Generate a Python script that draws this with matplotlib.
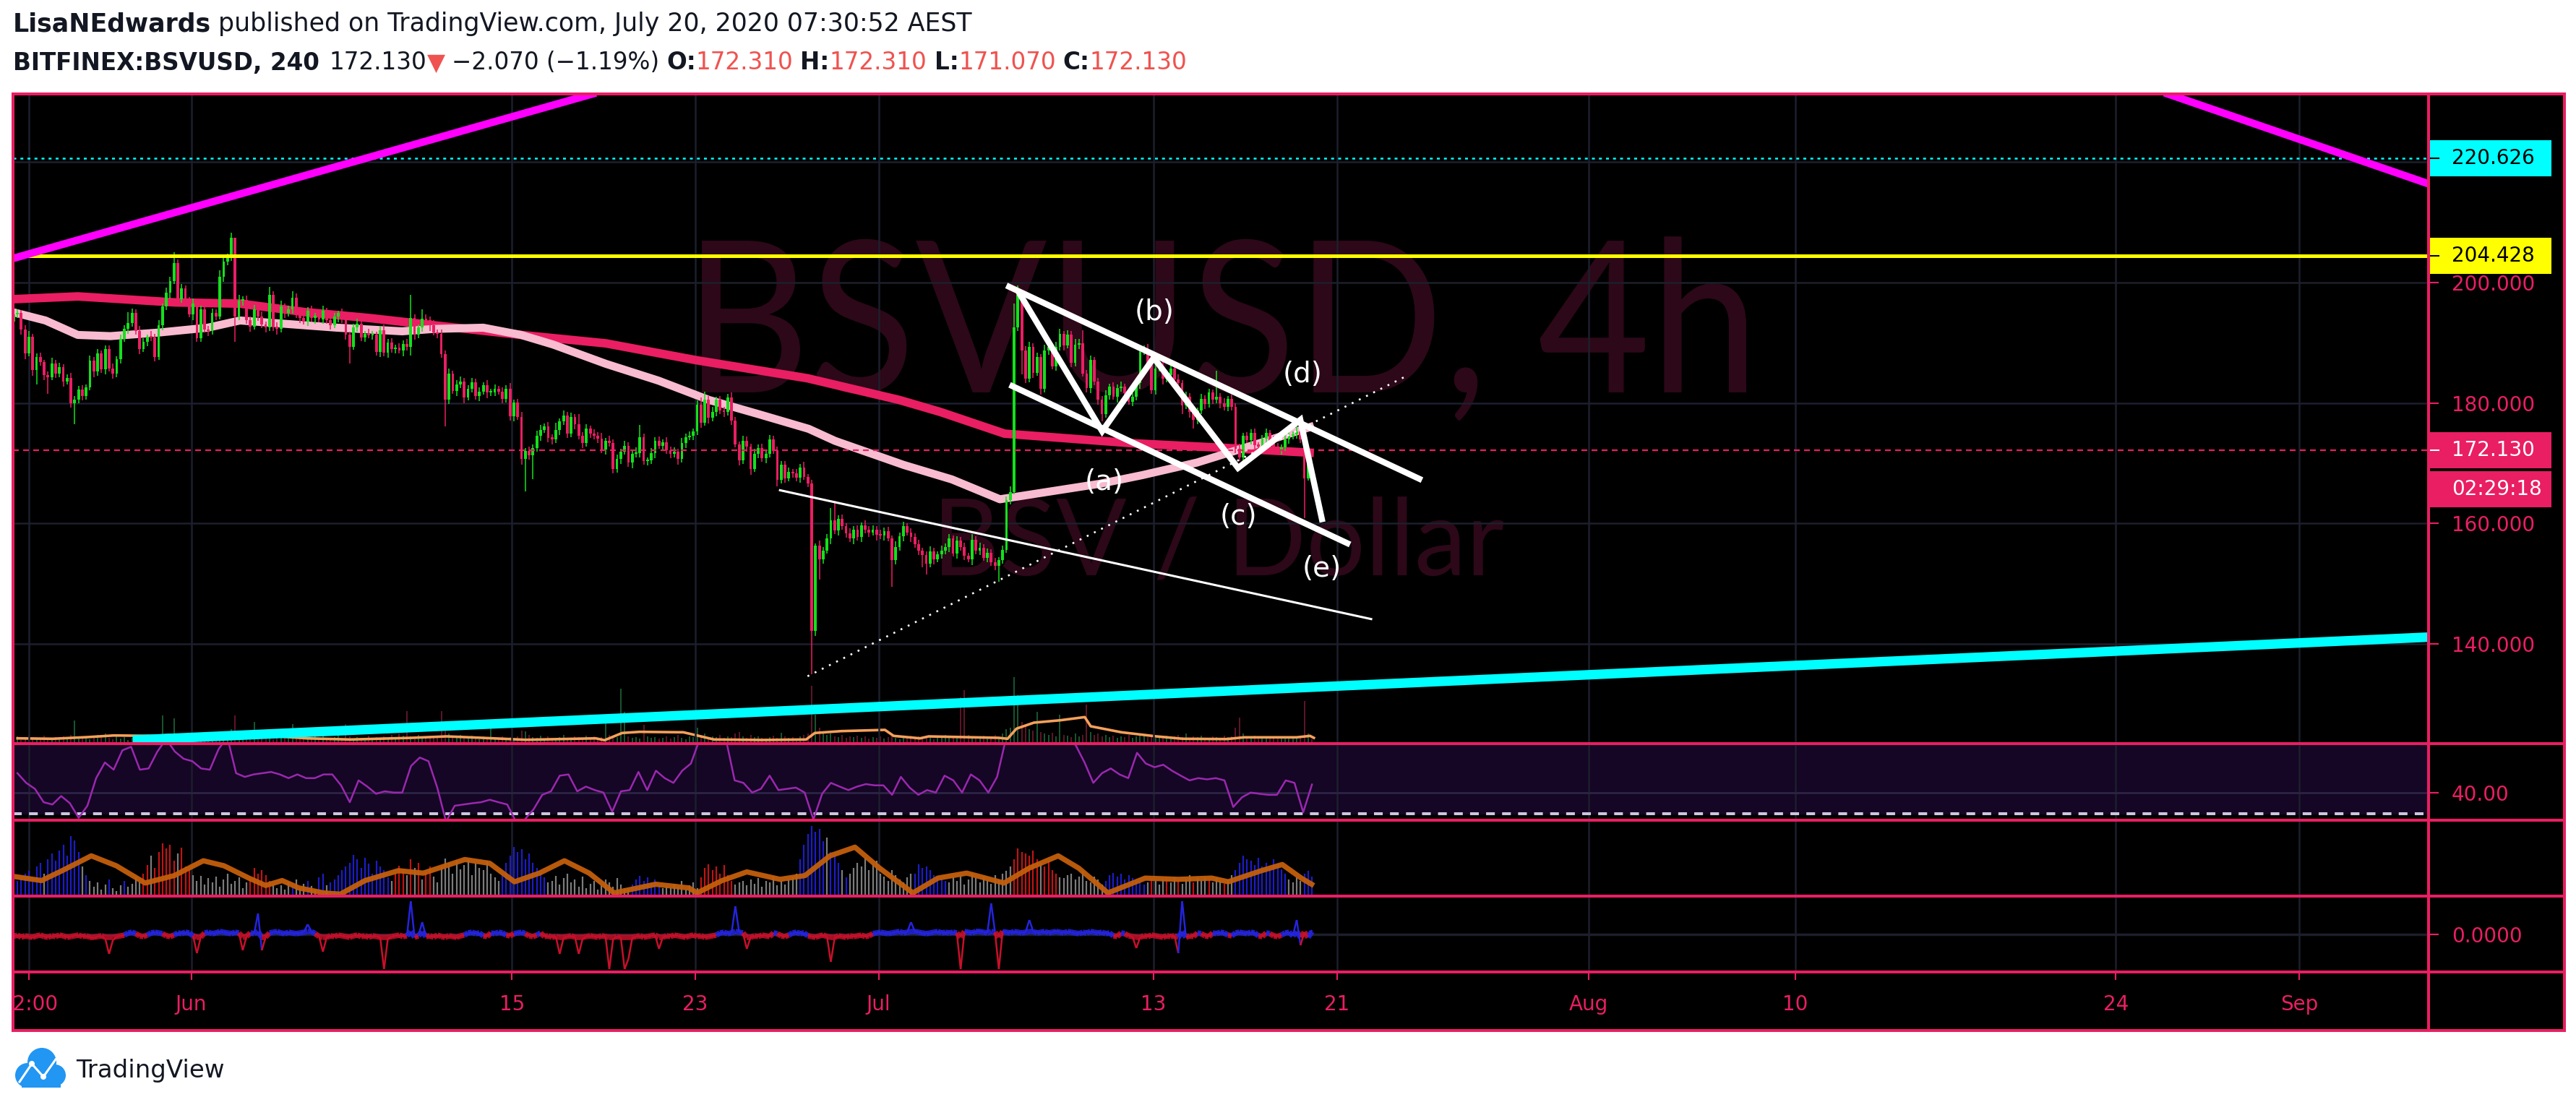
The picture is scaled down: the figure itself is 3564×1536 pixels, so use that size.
import numpy as np
import pandas as pd
import matplotlib
matplotlib.use("Agg")
from matplotlib import pyplot as plt
from matplotlib.lines import Line2D
from matplotlib.patches import Rectangle, PathPatch, Circle
from matplotlib.textpath import TextPath
from matplotlib.font_manager import FontProperties
from matplotlib.transforms import Affine2D, blended_transform_factory
from matplotlib.collections import LineCollection

W, H, DPI = 3564, 1536, 100

#%% data -------------------------------------------------------------
# 4h candles BITFINEX:BSVUSD, first bar 2020-05-24 00:00
candle_start = "2020-05-24 02:00"
first_open = 194.0
closes = [
    193.5, 194.7, 195.0, 192.2, 188.2, 191.0, 185.5, 187.6, 186.8, 184.6,
    184.3, 186.6, 184.9, 186.0, 183.6, 184.2, 180.0, 180.6, 182.2, 181.2,
    182.6, 187.0, 185.2, 188.2, 185.6, 188.9, 185.7, 184.9, 187.3, 190.6,
    192.3, 193.3, 195.0, 192.0, 189.0, 190.2, 191.0, 190.9, 187.6, 192.9,
    196.0, 198.3, 200.3, 203.3, 197.2, 199.0, 196.9, 194.7, 196.5, 190.8,
    195.6, 192.2, 191.9, 195.0, 194.4, 201.0, 203.5, 204.3, 207.5, 194.3,
    197.0, 197.1, 193.8, 192.7, 195.5, 194.3, 193.0, 192.5, 198.0, 192.7,
    192.3, 196.0, 194.9, 195.5, 197.5, 194.7, 194.1, 193.5, 195.3, 194.1,
    194.5, 193.9, 195.3, 193.7, 192.9, 194.3, 194.9, 193.9, 191.3, 189.3,
    192.5, 193.1, 190.9, 191.5, 191.2, 191.3, 188.5, 192.1, 188.3, 190.0,
    188.9, 189.2, 188.7, 189.8, 189.3, 194.1, 191.3, 192.5, 194.0, 193.7,
    192.9, 191.7, 191.5, 188.1, 180.5, 184.9, 182.0, 183.1, 183.5, 180.9,
    182.4, 183.4, 181.1, 181.9, 182.9, 181.7, 181.8, 182.3, 181.9, 180.7,
    182.4, 177.8, 180.1, 177.7,
    170.7, 172.0, 171.3, 172.5, 174.5, 175.5, 176.1, 174.2, 174.0, 175.5,
    176.9, 177.9, 174.9, 177.7, 176.5, 174.5, 173.3, 175.7, 174.9, 174.5,
    174.1, 172.3, 173.7, 173.3, 169.0, 170.7, 171.9, 172.9, 170.1, 171.5,
    171.7, 174.3, 170.3, 170.5, 171.7, 173.7, 172.9, 173.5, 172.1, 171.5,
    171.9, 170.7, 173.3, 174.3, 174.5, 175.3, 179.7, 176.7, 180.5, 177.5,
    178.5, 180.5, 178.7, 178.5, 180.9, 177.1, 173.1, 170.5, 173.7, 172.7,
    169.0, 171.5, 172.5, 170.8, 171.5, 173.9, 172.2, 167.2, 169.7, 167.5,
    168.5, 168.3, 167.6, 169.3, 167.7, 166.6,
    142.1, 156.3, 154.0, 155.5, 157.5, 160.5, 158.8, 160.7, 159.5, 158.3,
    157.5, 159.0, 157.7, 159.7, 158.9, 158.5, 159.0, 158.1, 158.0, 158.7,
    157.5, 153.9, 156.1, 157.9, 159.5, 158.5, 157.7, 156.5, 155.5, 154.7,
    153.3, 155.3, 154.0, 154.9, 155.5, 156.1, 157.5, 155.0, 157.1, 156.1,
    154.6, 154.0, 157.3, 155.5, 156.0, 154.3, 155.1, 153.5, 153.0, 153.9,
    155.6, 163.9, 165.2,
    192.5, 198.0, 188.7, 184.0, 189.3, 185.0, 187.6, 182.3, 188.7, 189.3,
    186.1, 189.3, 191.5, 189.6, 191.4, 186.7, 189.7, 189.9, 184.9, 182.5,
    187.1, 183.5, 180.5, 178.2, 181.3, 182.7, 181.0, 182.5, 182.7, 181.6,
    180.2, 181.0, 183.3, 188.5, 189.0, 186.3, 182.1, 185.7, 186.1, 184.0,
    184.6, 185.7, 183.9, 183.3, 179.6, 181.0, 178.5, 177.2, 178.7, 180.7,
    179.8, 181.7, 180.5, 181.0, 180.0, 179.4, 180.7, 179.3, 172.4, 171.0,
    174.5, 173.8, 175.0, 173.0, 172.8, 174.1, 175.0, 173.7, 172.8, 172.3,
    172.6, 174.0, 174.5, 174.8, 175.3, 173.9, 167.5, 172.31, 172.13]
wick_up = [
    0.6, 0.8, 0.5, 0.4, 0.7, 1.0, 0.5, 0.6, 0.8, 0.4, 0.6, 0.9, 0.5, 0.7, 0.4, 0.6, 0.8, 0.5, 0.6,
    0.7, 0.5, 0.9, 0.6, 0.8, 0.5, 0.7, 0.6, 0.9, 0.5, 0.8, 0.6, 1.8, 0.7, 0.5, 0.8, 0.6, 0.4, 0.9,
    0.6, 0.8, 0.5, 0.9, 0.7, 1.8, 0.6, 0.8, 0.5, 0.7, 0.9, 0.6, 0.5, 0.8, 0.6, 0.7, 0.5, 1.0, 0.6,
    0.5, 0.8, 0.0, 0.9, 0.6, 0.7, 0.5, 0.8, 0.6, 0.9, 0.5, 1.3, 0.6, 0.7, 1.0, 0.5, 0.6, 1.0, 0.7,
    0.5, 0.7, 0.6, 0.9, 0.5, 0.6, 0.8, 0.5, 0.7, 0.6, 0.4, 0.8, 0.6, 0.5, 0.7, 0.9, 0.6, 0.5, 0.8,
    0.6, 0.5, 0.7, 0.9, 0.6, 0.8, 0.5, 0.7, 0.6, 0.8, 3.8, 0.6, 0.5, 1.5, 0.7, 0.6, 0.8, 0.5, 0.7,
    0.6, 0.8, 0.5, 0.7, 0.9, 0.6, 0.5, 0.8, 0.6, 0.7, 0.5, 0.9, 0.6, 0.8, 0.5, 0.7, 0.6, 0.9, 0.5,
    0.6, 0.8, 0.5, 0.7, 0.6, 0.9, 0.8, 0.5, 0.7, 0.6, 1.2, 0.5, 0.8, 0.6, 0.7, 0.5, 1.6, 0.6, 0.8,
    0.5, 0.7, 0.6, 0.9, 0.5, 0.8, 0.6, 0.7, 0.5, 0.8, 0.6, 0.7, 0.9, 2.0, 0.6, 0.5, 0.8, 0.6, 0.7,
    0.5, 0.8, 0.6, 0.7, 0.5, 0.9, 0.6, 0.8, 0.5, 0.7, 1.2, 1.4, 0.6, 0.8, 0.5, 0.7, 0.6, 0.6, 0.8,
    0.6, 0.5, 0.8, 0.7, 0.5, 0.9, 0.6, 0.7, 0.5, 0.8, 0.6, 0.5, 0.7, 0.6, 0.8, 0.5, 0.7, 0.6, 0.9,
    0.5, 0.6, 0.4, 0.8, 0.6, 0.7, 2.0, 3.3, 0.6, 0.8, 0.5, 0.9, 0.6, 0.7, 0.5, 0.8, 0.6, 0.7, 0.5,
    0.8, 0.6, 0.7, 0.5, 0.9, 0.6, 0.8, 0.5, 0.7, 0.6, 0.8, 0.5, 0.7, 0.9, 0.6, 0.5, 0.8, 0.6, 0.7,
    0.5, 0.8, 0.6, 0.7, 0.5, 0.9, 0.6, 0.8, 0.5, 0.7, 0.6, 0.8, 0.5, 0.7, 0.6, 0.9, 4.0, 1.5, 0.8,
    0.7, 0.9, 0.6, 0.8, 0.5, 1.0, 0.7, 0.6, 0.9, 0.8, 0.5, 0.7, 0.6, 0.9, 0.7, 2.2, 0.6, 0.8, 0.5,
    0.7, 0.6, 0.8, 0.5, 0.7, 0.6, 0.9, 0.5, 0.8, 0.6, 0.7, 0.9, 0.6, 0.8, 0.5, 0.7, 0.6, 0.8, 0.5,
    0.7, 0.6, 0.8, 0.5, 0.9, 0.6, 0.7, 0.5, 0.8, 0.6, 0.7, 0.5, 4.3, 0.6, 0.8, 0.5, 0.7, 0.6, 0.8,
    0.5, 0.7, 0.6, 0.8, 0.5, 0.6, 0.7, 0.5, 0.8, 0.6, 0.5, 0.7, 0.6, 0.5, 0.8, 0.6, 0.7, 0.0, 0.0]
wick_dn = [
    0.5, 0.7, 0.6, 0.8, 0.9, 0.5, 1.0, 2.4, 0.6, 0.8, 2.8, 0.5, 0.7, 0.6, 0.9, 0.5, 0.8, 3.5, 0.6,
    0.8, 0.6, 0.5, 0.9, 0.7, 0.6, 0.8, 0.5, 0.9, 0.6, 0.7, 0.5, 0.8, 0.6, 0.7, 0.9, 0.5, 0.8, 0.6,
    0.7, 0.5, 0.8, 0.6, 0.9, 0.5, 0.7, 0.6, 0.8, 0.5, 0.9, 0.6, 0.7, 0.5, 0.8, 0.6, 0.7, 0.5, 0.9,
    0.6, 0.7, 4.2, 0.5, 0.8, 0.6, 0.9, 0.5, 0.7, 0.6, 0.8, 0.5, 0.7, 0.9, 0.6, 0.8, 0.5, 0.7, 0.6,
    0.8, 0.5, 0.7, 0.6, 0.9, 0.5, 0.8, 0.6, 0.7, 0.5, 0.9, 0.6, 0.8, 2.8, 0.5, 0.7, 0.6, 0.8, 0.5,
    0.7, 0.6, 0.9, 0.5, 0.8, 0.6, 0.7, 0.5, 0.9, 0.6, 1.4, 0.8, 0.5, 0.7, 0.6, 0.9, 0.5, 0.8, 0.6,
    4.4, 0.7, 0.5, 0.8, 0.6, 0.9, 0.5, 0.7, 0.6, 0.8, 0.5, 0.9, 0.6, 0.7, 0.5, 0.8, 0.6, 0.7, 0.9,
    0.5, 1.0, 5.4, 0.7, 4.0, 0.6, 0.8, 0.5, 0.7, 0.9, 0.6, 0.8, 0.5, 0.7, 0.6, 0.9, 0.5, 0.8, 0.6,
    0.7, 0.5, 0.8, 0.6, 0.9, 0.5, 0.7, 0.6, 0.8, 0.5, 0.7, 0.9, 0.6, 0.8, 0.5, 0.7, 0.6, 0.9, 0.5,
    0.8, 0.6, 0.7, 0.5, 0.9, 0.6, 0.8, 0.5, 0.7, 0.6, 0.8, 0.5, 0.9, 0.6, 0.7, 0.5, 0.8, 0.6, 0.7,
    0.5, 0.9, 0.6, 0.8, 0.9, 0.5, 0.7, 0.6, 0.8, 0.5, 0.7, 1.1, 0.6, 0.8, 0.5, 0.7, 0.6, 0.9, 0.5,
    0.6, 7.2, 0.8, 3.3, 0.7, 0.5, 0.9, 0.6, 0.8, 0.5, 0.7, 0.6, 0.9, 0.5, 0.8, 0.6, 0.7, 0.5, 0.9,
    0.6, 0.8, 0.5, 4.4, 0.7, 0.6, 0.9, 0.5, 0.8, 0.6, 0.7, 2.0, 1.8, 0.6, 0.8, 0.5, 0.7, 0.6, 0.9,
    0.5, 0.8, 0.6, 0.7, 0.5, 0.9, 0.6, 0.8, 0.5, 0.7, 0.6, 0.8, 2.7, 0.6, 0.5, 0.7, 0.4, 0.6, 4.0,
    0.7, 0.6, 0.8, 0.5, 0.9, 0.6, 0.7, 0.5, 0.8, 0.6, 0.9, 0.5, 0.7, 0.6, 0.8, 0.5, 0.7, 0.9, 0.6,
    0.8, 1.2, 0.6, 0.7, 0.5, 0.9, 0.6, 0.8, 0.5, 0.7, 0.6, 0.9, 0.5, 0.8, 0.6, 0.7, 0.5, 0.9, 0.6,
    0.7, 0.5, 0.8, 1.4, 0.6, 0.9, 1.5, 0.7, 0.5, 0.8, 0.6, 0.7, 0.5, 0.9, 0.6, 0.8, 0.5, 0.7, 0.6,
    0.8, 0.5, 0.7, 0.6, 0.9, 0.5, 0.8, 0.6, 0.7, 0.5, 0.9, 0.6, 0.8, 0.5, 0.7, 0.6, 6.6, 0.4, 1.06]
volume = [
    8, 6, 10, 5, 7, 12, 9, 6, 8, 11, 7, 5, 9, 6, 10, 8, 12, 32, 9,
    7, 10, 6, 8, 12, 9, 14, 8, 6, 10, 7, 9, 5, 8, 11, 6, 9, 13, 10,
    8, 12, 39, 10, 14, 35, 9, 11, 7, 12, 8, 6, 10, 9, 13, 7, 8, 11, 9,
    12, 20, 39, 14, 10, 8, 15, 30, 9, 7, 11, 8, 6, 10, 9, 12, 8, 27, 10,
    7, 9, 6, 8, 11, 7, 10, 8, 6, 9, 12, 8, 27, 10, 7, 9, 6, 8, 11,
    7, 9, 8, 10, 6, 12, 9, 14, 11, 45, 10, 8, 12, 9, 7, 11, 8, 10, 45,
    22, 14, 10, 8, 12, 9, 7, 11, 8, 6, 10, 9, 27, 8, 7, 10, 6, 9, 8,
    10, 18, 17, 12, 9, 8, 11, 7, 10, 8, 6, 9, 12, 8, 7, 10, 9, 8, 11,
    8, 10, 7, 9, 36, 12, 10, 9, 76, 44, 10, 8, 9, 7, 26, 10, 8, 9, 7,
    8, 10, 7, 9, 12, 8, 6, 10, 9, 22, 11, 14, 8, 10, 9, 12, 8, 10, 9,
    14, 16, 10, 8, 12, 9, 10, 8, 7, 9, 11, 8, 15, 10, 8, 9, 7, 10, 12,
    14, 80, 40, 22, 15, 12, 14, 10, 9, 12, 8, 10, 9, 11, 8, 10, 7, 9, 8,
    10, 7, 9, 12, 8, 6, 10, 9, 11, 8, 10, 7, 9, 8, 6, 10, 9, 12, 8,
    9, 10, 64, 74, 12, 10, 8, 9, 11, 8, 10, 12, 9, 14, 20, 22, 92, 67, 30,
    25, 20, 18, 44, 16, 14, 12, 15, 10, 40, 12, 11, 9, 14, 10, 12, 54, 16, 12,
    14, 10, 12, 9, 11, 8, 10, 9, 12, 8, 10, 14, 11, 9, 12, 8, 10, 9, 11,
    8, 10, 12, 9, 14, 8, 10, 9, 11, 8, 7, 10, 9, 8, 11, 9, 10, 22, 36,
    14, 10, 9, 11, 8, 10, 7, 9, 8, 10, 9, 7, 10, 8, 9, 11, 59, 14, 6]

# moving averages drawn on price (days after 2020-06-01, price)
ma_red_days = [-8.0, -4.95, -0.70, 2.13, 4.96, 7.79, 10.6, 14.4, 18.1, 22.05,
               26.9, 30.9, 32.7, 35.5, 41.1, 45.3, 49.0]
ma_red_vals = [197.2, 197.7, 196.7, 196.5, 195.1, 194.1, 192.9, 191.3, 189.9, 187.1,
               184.1, 180.5, 178.5, 174.9, 173.3, 172.5, 171.7]
ma_pink_days = [-8.0, -6.36, -4.95, -3.53, -1.40, 0.72, 2.13, 3.55, 6.38, 9.21,
                10.6, 12.75, 14.4, 15.8, 18.1, 20.4, 22.6, 24.8, 26.95, 28.1,
                31.1, 33.2, 35.3, 37.5, 39.7, 41.5, 43.9, 46.7, 49.0]
ma_pink_vals = [195.3, 193.7, 191.3, 191.1, 191.7, 192.5, 193.7, 193.3, 192.5, 191.9,
                192.3, 192.5, 191.3, 189.7, 186.5, 183.7, 180.5, 178.1, 175.7, 173.7,
                169.7, 167.3, 164.0, 165.3, 166.6, 168.0, 170.1, 173.4, 176.2]

# volume moving average (same units as volume)
vol_ma_days = [-7.58, -6.05, -4.52, -3.37, -1.65, -0.70, 0.45, 1.98, 3.13, 5.04,
               6.95, 9.63, 11.16, 12.69, 14.6, 17.66, 18.04, 18.81, 19.57, 21.48,
               22.25, 22.82, 24.93, 26.84, 27.22, 28.37, 30.28, 30.66, 31.81, 32.19,
               35.25, 35.63, 36.02, 36.78, 37.93, 39.0, 39.26, 40.6, 42.13, 43.28,
               45.19, 45.96, 48.25, 48.83, 49.0]
vol_ma_vals = [7.3, 6.7, 9.0, 11.3, 10.7, 12.3, 11.3, 14.7, 11.3, 7.3,
               5.7, 8.0, 10.0, 8.0, 5.3, 7.3, 4.7, 14.7, 16.3, 15.7,
               10.0, 5.7, 5.0, 5.7, 14.7, 17.3, 19.0, 10.7, 7.3, 10.0,
               8.0, 6.7, 20.7, 29.0, 32.3, 36.7, 24.0, 15.7, 10.0, 6.7,
               6.3, 8.7, 8.7, 10.7, 8.0]

# RSI
rsi_first, rsi_last = "2020-05-24 10:00", "2020-07-19 22:00"
rsi_vals = [
    49.5, 44.8, 41.9, 35.4, 34.3, 38.4, 34.9, 27.8, 33.7, 47.1,
    54.7, 51.2, 60.6, 62.3, 51.2, 51.8, 60.0, 66.0, 60.0, 56.5,
    55.3, 51.8, 51.2, 61.2, 67.0, 49.5, 47.7, 48.9, 49.5, 50.1,
    48.9, 47.1, 48.9, 47.1, 47.1, 48.9, 48.9, 43.6, 35.4, 46.0,
    43.0, 39.5, 40.7, 40.1, 40.1, 53.0, 57.1, 55.3, 42.5, 26.0,
    33.7, 34.3, 34.9, 35.4, 36.6, 35.4, 34.3, 26.0, 27.0, 31.9,
    39.0, 40.7, 48.3, 48.9, 40.7, 43.0, 41.3, 40.1, 30.8, 40.7,
    41.3, 50.1, 41.3, 50.7, 47.1, 44.8, 50.7, 54.2, 66.0, 68.0,
    67.0, 66.0, 46.0, 44.8, 40.1, 41.9, 48.3, 41.3, 41.9, 42.5,
    40.1, 27.0, 39.5, 44.8, 43.0, 41.3, 43.0, 44.2, 43.6, 43.6,
    39.0, 47.7, 42.5, 39.0, 41.3, 40.1, 48.3, 46.0, 40.1, 48.9,
    46.0, 40.1, 47.7, 66.0, 70.0, 72.0, 71.0, 68.0, 70.0, 68.0,
    67.0, 63.0, 54.7, 44.8, 49.5, 51.8, 48.9, 47.1, 59.4, 54.2,
    52.4, 53.6, 50.7, 48.3, 46.0, 47.1, 46.5, 47.1, 46.0, 33.1,
    37.8, 40.1, 39.5, 39.0, 39.0, 46.0, 44.8, 30.5, 44.0]

# third pane: histogram per bar (b=blue, r=red, g=grey) and its orange average
hist_vals = [
    8, 12, 20, 26, 30,
    34, 22, 40, 45, 30, 50, 58, 48, 62, 70, 55, 82, 76, 60, 40, 28, 20,
    12, 18, 8, 15, 22, 10, 6, 14, 20, 12, 16, 25, 18,
    30, 42, 55, 38, 60, 72, 65, 70, 48, 58, 66, 40, 35, 28,
    20, 27, 15, 24, 18, 26, 12, 22, 30, 16, 20, 25, 10, 18,
    22, 38, 30, 35, 28, 20, 15,
    10, 14, 8, 18, 12, 22, 9, 16, 20, 13, 8, 25, 30, 14, 18, 22, 28, 35, 40,
    45, 56, 50, 38, 52, 44, 30, 48, 40, 35, 25, 20,
    30, 41, 35, 28, 50, 38, 45, 22, 33, 40, 26, 18,
    40, 51, 45, 30, 48, 36, 42, 50, 28, 44, 38, 35, 48, 30, 25, 20,
    30, 45, 55, 67, 60, 64, 50, 58, 45, 38, 30, 25, 18,
    20, 27, 15, 24, 30, 18, 22, 12, 26, 10, 16, 20, 8, 14, 22, 18, 12, 24, 15, 10, 8,
    15, 22, 27, 20, 25, 18, 22, 14, 10, 12,
    10, 16, 12, 20, 8, 14, 18, 10,
    25, 38, 43, 35, 40, 30, 42, 28, 20, 15,
    18, 20, 14, 22, 16, 24, 12, 20, 18, 26, 14, 20, 15, 22, 25, 30,
    50, 70, 85, 96, 88, 92, 75, 80, 60, 55, 45, 35, 25,
    30, 38, 45, 40, 52, 35, 44, 48, 30, 26, 20, 35, 28, 22, 18, 25, 30,
    30, 43, 38, 40, 35, 28, 25, 22, 20,
    18, 25, 20, 28, 15, 22, 30, 24, 18, 26, 20, 16, 28, 22, 30, 34, 40,
    50, 65, 60, 58, 55, 62, 50, 45, 40, 48, 35, 30, 25,
    24, 28, 30, 22, 26, 34, 20, 18, 26, 22, 15,
    20, 28, 31, 26, 30, 22, 28, 24, 20, 18, 15,
    18, 24, 20, 15, 22, 26, 18, 24, 20, 16, 22, 28, 18, 24, 20, 25, 22, 18, 24, 20, 16, 22, 28,
    35, 45, 55, 50, 48, 42, 52, 40, 45, 38, 50, 44, 36, 30,
    22, 18, 25, 20,
    30, 34, 26]
hist_kind = ("bbbbb" "bbbbgbbbbbbbbbgbg" "ggggbgggbgggg" "rrgrrrrrrgrrrg"
             "gggggggggggggg" "rrrrrrg" "ggggbgggbggbbgbbbbb" "bbbbbbbbbbbg"
             "rrrgrgrgrrgg" "gggggggggggggggg" "bbbbbbbbbbbbg"
             "ggggggggggggggggggggg" "bbbbbbbbgg" "gggggggg" "rrrrrrrrrg"
             "gggggggggggggggg" "bbbbbbbgbbbgb" "ggggggggggggggggg" "bbbbbbbbb"
             "ggggggggggggggggg" "rrrrrrrgrrrrg" "ggggggggggg" "bbbbbbbbbbb"
             "grgggrggrgggrgggrgggrgg" "bbbbbbbbbbbbbb" "gggg" "bbb")
p3_days = [-7.62, -6.53, -5.63, -4.36, -3.27, -2.01, -0.74, 0.53, 1.43, 2.52,
           3.25, 3.97, 4.70, 5.78, 6.51, 7.59, 9.04, 10.13, 11.94, 13.03,
           14.11, 15.20, 16.29, 17.37, 18.46, 20.27, 21.72, 22.08, 23.17, 24.25,
           25.70, 26.79, 27.88, 28.97, 30.05, 31.50, 32.59, 33.85, 35.48, 36.57,
           37.84, 38.74, 40.01, 41.64, 43.09, 44.54, 45.26, 46.71, 47.62, 48.45, 48.9]
p3_vals = [25.6, 20.5, 34.2, 54.7, 41.0, 17.1, 27.4, 47.9, 41.0, 23.9,
           13.7, 20.5, 10.3, 3.4, 1.7, 20.5, 34.2, 30.8, 49.6, 44.4,
           18.8, 30.8, 47.9, 30.8, 3.4, 15.4, 10.3, 3.4, 20.5, 32.5,
           22.2, 27.4, 54.7, 66.7, 37.6, 3.4, 23.9, 30.8, 17.1, 37.6,
           54.7, 37.6, 3.4, 23.9, 22.2, 23.9, 18.8, 34.2, 42.7, 23.9, 15.4]

# bottom oscillator, one value per bar
osc_vals = [
    -2, -3, -1, -4, -2, -3, -5, -2, -1, -3, -4, -2, -3, -1, -2, -4, -3, -2, -1,
    -3, -2, -4, -5, -3, -2, -6, -27, -8, -3, -2, -1, 2, 3, 1, -2, -3, -1, 2,
    3, 2, 1, -2, -3, -1, 2, 1, 3, 2, -2, -26, -4, 2, 3, 1, 2, 4, 3,
    2, 1, 3, 2, -22, -3, 2, 1, 29, -22, -4, 2, 3, 4, 2, 1, 3, 2, 1,
    2, 3, 14, 4, 1, -3, -24, -4, -2, -3, -1, -2, -3, -4, -2, -1, -3, -2, -4,
    -2, -3, -4, -48, -6, -3, -2, -1, -3, -2, 46, -4, -2, 17, -3, -2, -4, -1, -3,
    -4, -2, -3, -5, -2, -1, 2, 3, 1, 2, -2, -3, 2, 1, 3, 2, -1, -2, 1,
    2, 3, 1, -2, -3, -1, 2, -3, -2, -4, -3, -27, -5, -3, -2, -4, -27, -6, -3,
    -2, -3, -4, -2, -3, -48, -6, -3, -4, -48, -34, -5, -3, -2, -4, -3, -2, -1, -20,
    -4, -2, -3, -1, -2, -3, -4, -2, -1, -3, -2, -4, -3, -2, -1, 2, 3, 1, 2,
    39, 3, 2, -20, -4, -2, -3, -1, -2, -3, 2, 1, -2, -3, -1, 2, 3, 1, 2,
    -2, -3, -4, -2, -1, -3, -38, -5, -2, -3, -4, -2, -3, -2, -1, -3, -2, 1, 2,
    3, 2, 1, 2, 3, 4, 2, 3, 17, 4, 3, 2, 1, 2, 3, 4, 2, 3, 2,
    3, 2, -48, 4, 3, 2, 4, 5, 3, 2, 43, 3, -48, 5, 3, 2, 4, 3, 2,
    3, 20, 4, 2, 3, 4, 2, 3, 5, 3, 2, 4, 3, 2, 1, 3, 2, 4, 3,
    2, 3, 1, 2, -2, -3, 2, 1, -2, -3, -19, -4, -2, -3, -1, -2, -3, -4, -2,
    -3, -2, -26, 46, -4, -2, -3, 2, 1, -2, -3, 2, 1, 3, 2, -1, -2, 2, 3,
    2, 1, 3, 2, -2, -3, 2, 1, -2, -3, -1, 2, 3, -2, 20, -15, 3, -4, 6]

# drawings (days after 2020-06-01, price)
yellow_level = 204.428
cyan_level = 220.626
last_price = 172.13
magenta_left = [(-7.78, 204.0), (16.0, 229.7)]
magenta_right = [(86.3, 231.3), (97.65, 216.4)]
cyan_trend = [(-2.55, 124.0), (97.65, 141.1)]
thin_white = [(25.7, 165.5), (51.5, 144.1)]
dotted_white = [(26.9, 134.6), (53.0, 184.4)]
chan_upper = [(35.7, 199.3), (53.6, 167.4)]
chan_lower = [(35.84, 182.8), (50.46, 156.7)]
wave_days = [36.18, 39.76, 42.01, 45.69, 48.41, 49.35]
wave_vals = [198.0, 175.3, 187.5, 169.2, 177.2, 160.7]
wave_labels = ["(a)", "(b)", "(c)", "(d)", "(e)"]
wave_label_pos = [(39.85, 166.9), (42.03, 195.1), (45.70, 161.1), (48.5, 184.7), (49.35, 152.5)]

tick_dates = ["2020-05-24 22:00", "2020-06-01", "2020-06-15", "2020-06-23", "2020-07-01",
              "2020-07-13", "2020-07-21", "2020-08-01", "2020-08-10", "2020-08-24", "2020-09-01"]
tick_labels = ["22:00", "Jun", "15", "23", "Jul", "13", "21", "Aug", "10", "24", "Sep"]

#%% layout -----------------------------------------------------------
CRIMSON = "#e91e63"
GREEN = "#14e11c"
GRID = "#1c1f2c"
WM = "#2c0818"
PX_JUN1, PX_PER_DAY = 264.5, 31.7     # time scale of the screenshot
PX_200, PX_PER_USD = 391.0, 8.33      # price scale
L, R = 18, 3360
XLIM = ((L - PX_JUN1) / PX_PER_DAY, (R - PX_JUN1) / PX_PER_DAY)


def days(ts):
    return np.asarray((pd.DatetimeIndex(ts) - pd.Timestamp("2020-06-01")) / pd.Timedelta(days=1))


def rect(x0, y0, x1, y1):
    return [x0 / W, 1 - y1 / H, (x1 - x0) / W, (y1 - y0) / H]


fig = plt.figure(figsize=(W / DPI, H / DPI), dpi=DPI)
fig.patch.set_facecolor("white")
pix = Affine2D().scale(1.0 / W, 1.0 / H) + fig.transFigure

fig.add_artist(Rectangle((18, H - 1426), 3548 - 18, 1426 - 130, transform=pix,
                         facecolor="black", edgecolor="none", zorder=-10))

vol_ax = fig.add_axes(rect(L, 900, R, 1029), zorder=1)
ax = fig.add_axes(rect(L, 130, R, 1029), zorder=2)
rsi_ax = fig.add_axes(rect(L, 1029, R, 1135), zorder=2)
p3_ax = fig.add_axes(rect(L, 1135, R, 1240), zorder=2)
osc_ax = fig.add_axes(rect(L, 1240, R, 1345), zorder=2)
time_ax = fig.add_axes(rect(L, 1345, R, 1426), zorder=2)

tick_x = days(tick_dates)
for a in (vol_ax, ax, rsi_ax, p3_ax, osc_ax, time_ax):
    a.set_facecolor("none")
    for s in a.spines.values():
        s.set_visible(False)
    a.set_xticks([])
    a.set_yticks([])
    if a not in (vol_ax, time_ax):
        for t in tick_x:
            a.axvline(t, color=GRID, lw=1.8, zorder=0.3)


def style_right(a, ticks, labels):
    a.yaxis.tick_right()
    a.set_yticks(ticks)
    a.set_yticklabels(labels)
    a.tick_params(axis="y", colors=CRIMSON, labelsize=20, length=10, width=1.5, pad=13)


#%% main price pane --------------------------------------------------
n = len(closes)
cx = days(pd.date_range(candle_start, periods=n, freq="4h"))
c = np.array(closes)
o = np.r_[first_open, c[:-1]]
hi = np.maximum(o, c) + np.array(wick_up[:n])
lo = np.minimum(o, c) - np.array(wick_dn[:n])
up = c >= o
col = np.where(up, GREEN, CRIMSON)

# watermark
fp = FontProperties(family="Lato", weight="normal")
for txt, left, width, base, cap in [("BSVUSD, 4h", 971, 1445, 543, 210),
                                    ("BSV / Dollar", 1303, 777, 796, 106)]:
    tp = TextPath((0, 0), txt, size=100, prop=fp)
    ext = tp.get_extents()
    capB = TextPath((0, 0), "B", size=100, prop=fp).get_extents().height
    tr = Affine2D().translate(-ext.x0, 0).scale(width / ext.width, cap / capB).translate(left, H - base) + pix
    ax.add_patch(PathPatch(tp, transform=tr, facecolor=WM, edgecolor="none", zorder=0.2))

for p in [140, 160, 180, 200, 220]:
    ax.axhline(p, color=GRID, lw=1.8, zorder=0.3)

ax.plot(ma_red_days, ma_red_vals, color=CRIMSON, lw=8.5, solid_capstyle="butt", zorder=1.5)
ax.plot(ma_pink_days, ma_pink_vals, color="#f8bbd0", lw=8.0, solid_capstyle="butt", zorder=1.6)

ax.vlines(cx, lo, hi, colors=col, lw=1.1, zorder=3)
ax.bar(cx, np.maximum(np.abs(c - o), 0.25), bottom=np.minimum(o, c), width=0.12,
       color=col, linewidth=0, zorder=4)

ax.axhline(yellow_level, color="#ffff00", lw=3.6, zorder=6)
ax.axhline(cyan_level, color="#00ffff", lw=1.8, dashes=(1.6, 2.3), zorder=6)
ax.axhline(last_price, color=CRIMSON, lw=1.6, dashes=(3.6, 2.7), zorder=6)
ax.axline(*magenta_left, color="#ff00ff", lw=7.5, zorder=6)
ax.axline(*magenta_right, color="#ff00ff", lw=7.5, zorder=6)
ax.plot(*zip(*cyan_trend), color="#00ffff", lw=9.5, solid_capstyle="butt", zorder=6)

ax.plot(*zip(*thin_white), color="white", lw=2.2, zorder=8)
ax.plot(*zip(*dotted_white), color="white", lw=1.9, dashes=(1.0, 3.2), zorder=8)
ax.plot(*zip(*chan_upper), color="white", lw=6, zorder=9)
ax.plot(*zip(*chan_lower), color="white", lw=6, zorder=9)
ax.plot(wave_days, wave_vals, color="white", lw=6, solid_joinstyle="miter", zorder=9)
for lab, (dx, py) in zip(wave_labels, wave_label_pos):
    ax.text(dx, py, lab, color="white", fontsize=28, ha="center", va="center", zorder=10)

ax.set_xlim(*XLIM)
ax.set_ylim(200 - (1029 - PX_200) / PX_PER_USD, 200 + (PX_200 - 130) / PX_PER_USD)
style_right(ax, [140, 160, 180, 200], ["140.000", "160.000", "180.000", "200.000"])

# value boxes on the price scale
axw = R - L
bt = blended_transform_factory(ax.transAxes, ax.transData)
box_h = 50 / PX_PER_USD
for val, txt, fc, tc in [(cyan_level, "220.626", "#00ffff", "black"),
                         (yellow_level, "204.428", "#ffff00", "black"),
                         (last_price, "172.130", CRIMSON, "white"),
                         (last_price - 54 / PX_PER_USD, "02:29:18", CRIMSON, "white")]:
    ax.add_patch(Rectangle((1 + 2 / axw, val - box_h / 2), 168 / axw, box_h, transform=bt,
                           facecolor=fc, edgecolor="none", clip_on=False, zorder=20))
    ax.text(1 + 32 / axw, val, txt, transform=bt, color=tc, fontsize=20,
            va="center", ha="left", clip_on=False, zorder=21)
    if txt != "02:29:18":
        ax.plot([1, 1 + 14 / axw], [val, val], transform=bt, color=tc, lw=1.5,
                clip_on=False, zorder=22)

# volume
vol_ax.vlines(cx, 0, volume[:n], colors=np.where(up, "#1f6e3e", "#7a1c34"), lw=1.3, alpha=0.85)
vol_ax.plot(vol_ma_days, vol_ma_vals, color="#f5a05a", lw=2.6)
vol_ax.set_xlim(*XLIM)
vol_ax.set_ylim(0, 129)

#%% RSI --------------------------------------------------------------
rsi_ax.axhspan(30, 70, color="#140624", zorder=0.1)
rsi_ax.axhline(40, color="#2a2244", lw=2.2, zorder=0.4)
rsi_ax.axhline(30, color="#cdc6e0", lw=2.9, dashes=(3.0, 2.5), zorder=2)
rsi_x = days(pd.date_range(rsi_first, rsi_last, periods=len(rsi_vals)))
rsi_ax.plot(rsi_x, rsi_vals, color="#9c27b0", lw=1.8, zorder=3)
rsi_ax.set_xlim(*XLIM)
rsi_ax.set_ylim(40 - (1135 - 1097) / 2.85, 40 + (1097 - 1029) / 2.85)
style_right(rsi_ax, [40], ["40.00"])

#%% histogram pane ---------------------------------------------------
kind_col = {"b": "#1c1cc8", "r": "#c01414", "g": "#7c7c7c"}
m = min(n, len(hist_vals), len(hist_kind))
p3_ax.vlines(cx[:m], 0, hist_vals[:m], colors=[kind_col[k] for k in hist_kind[:m]], lw=1.6, zorder=2)
p3_ax.plot(p3_days, p3_vals, color="#c45f0c", lw=5.2, alpha=0.95, zorder=3)
p3_ax.set_xlim(*XLIM)
p3_ax.set_ylim(-1, 104)

#%% oscillator pane --------------------------------------------------
osc_ax.axhline(0, color=GRID, lw=2.5, zorder=0.4)
ov = np.array(osc_vals[:n], dtype=float)
ox = cx[:len(ov)]
segs = [[(ox[i], ov[i]), (ox[i + 1], ov[i + 1])] for i in range(len(ov) - 1)]
seg_col = ["#2424e0" if ov[i] + ov[i + 1] >= 0 else "#c8102a" for i in range(len(ov) - 1)]
band = np.clip(ov, -4, 4)
bsegs = [[(ox[i], band[i]), (ox[i + 1], band[i + 1])] for i in range(len(ov) - 1)]
osc_ax.add_collection(LineCollection(bsegs, colors=seg_col, linewidths=5.5, alpha=0.85, zorder=2))
osc_ax.add_collection(LineCollection(segs, colors=seg_col, linewidths=1.8, zorder=3))
osc_ax.set_xlim(*XLIM)
osc_ax.set_ylim(-52, 53)
style_right(osc_ax, [0], ["0.0000"])

#%% time scale -------------------------------------------------------
time_ax.set_xlim(*XLIM)
time_ax.set_ylim(0, 81)
for t, lab in zip(tick_x, tick_labels):
    time_ax.plot([t, t], [81, 71], color=CRIMSON, lw=1.5)
    tt = time_ax.text(t, 81 - 45, lab, color=CRIMSON, fontsize=20, ha="center", va="center")
    tt.set_clip_box(time_ax.bbox)
    tt.set_clip_on(True)

#%% frame lines ------------------------------------------------------
def hline(y, x0=18, x1=3548):
    fig.add_artist(Line2D([x0, x1], [H - y, H - y], transform=pix, color=CRIMSON, lw=2.9, zorder=50))


def vline(x, y0=130, y1=1426):
    fig.add_artist(Line2D([x, x], [H - y0, H - y1], transform=pix, color=CRIMSON, lw=2.9, zorder=50))


for y in (130, 1029, 1135, 1240, 1345, 1426):
    hline(y)
for x in (18, 3360, 3548):
    vline(x)

#%% header & footer --------------------------------------------------
rend = fig.canvas.get_renderer()


def runs(items, x, y, size):
    for txt, weight, color, fam, gap in items:
        t = fig.text(x / W, 1 - y / H, txt, fontsize=size, fontweight=weight,
                     color=color, family=fam, ha="left", va="center")
        x = t.get_window_extent(rend).x1 + gap


INK, RED = "#131722", "#ef5350"
SANS = ["DejaVu Sans"]
runs([("LisaNEdwards", "bold", INK, SANS, 10),
      ("published on TradingView.com, July 20, 2020 07:30:52 AEST", "normal", INK, SANS, 0)],
     18, 33, 25)
runs([("BITFINEX:BSVUSD, 240", "bold", INK, SANS, 13),
      ("172.130", "normal", INK, SANS, 1),
      ("\u25bc", "normal", RED, SANS, 9),
      ("\u22122.070 (\u22121.19%)", "normal", INK, SANS, 10),
      ("O:", "bold", INK, SANS, 0), ("172.310", "normal", RED, SANS, 10),
      ("H:", "bold", INK, SANS, 0), ("172.310", "normal", RED, SANS, 10),
      ("L:", "bold", INK, SANS, 0), ("171.070", "normal", RED, SANS, 10),
      ("C:", "bold", INK, SANS, 0), ("172.130", "normal", RED, SANS, 0)],
     18, 87, 23.5)

# TradingView logo + wordmark
LB = "#2196f3"
for (lx, ly, r) in [(38, H - 1488, 17), (58, H - 1470, 20), (76, H - 1488, 15)]:
    fig.add_artist(Circle((lx, ly), r, transform=pix, facecolor=LB, edgecolor="none", zorder=5))
fig.add_artist(Rectangle((30, H - 1505), 54, 17, transform=pix, facecolor=LB, edgecolor="none", zorder=5))
fig.add_artist(Line2D([27, 44, 60, 77], [H - 1497, H - 1472, H - 1490, H - 1466], transform=pix,
                      color="white", lw=2.2, zorder=6))
for (lx, ly) in [(44, H - 1472), (60, H - 1490)]:
    fig.add_artist(Circle((lx, ly), 4, transform=pix, facecolor="white", edgecolor="none", zorder=7))
fig.text(105 / W, 1 - 1482 / H, "TradingView", fontsize=24.5, color=INK, ha="left", va="center")

fig.savefig("out.png", dpi=DPI, facecolor="white")
